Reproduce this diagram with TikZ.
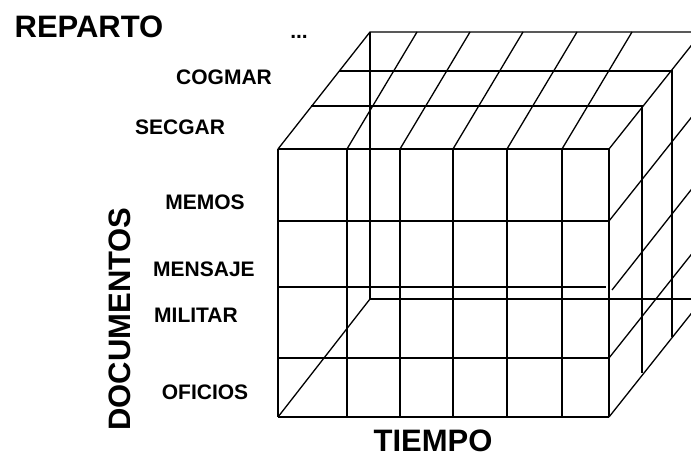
\documentclass[tikz,border=0pt]{standalone}
\usepackage{fontspec}
\setmainfont{Liberation Sans}
\usepackage{tikz}

\begin{document}
\begin{tikzpicture}    [x=1pt,y=-1pt,line width=1.3pt,
      eje node/.style={font=\fontsize{31}{31}\selectfont\bfseries,inner sep=0pt},
      tipo node/.style={font=\fontsize{21}{21}\selectfont\bfseries,inner sep=0pt}]
    %   [scale=.8,auto=left]
      \clip (0,0) rectangle (691,457);

      \node[eje node] (reparto) at (89,27) 		{REPARTO};
      \node[eje node] (tiempo) at (433,441) 		{TIEMPO};
      \node[eje node,rotate=90] (documentos) at (120,319) 	{DOCUMENTOS};

      \node[tipo node] (puntos) at (299,37) 		{...};
      \node[tipo node] (cogmar) at (224,77) 		{COGMAR};
      \node[tipo node] (secgar) at (180,127) 		{SECGAR};
      \node[tipo node] (memos) at (205,202) 		{MEMOS};
      \node[tipo node] (mensaje) at (204,269) 		{MENSAJE};
      \node[tipo node] (militar) at (196,315) 		{MILITAR};
      \node[tipo node] (oficios) at (205,392) 		{OFICIOS};

      % cara frontal
      \foreach \x in {278,347,400,453,507,562,609}
	\draw (\x,149) -- (\x,417);
      \foreach \y in {149,221,358,417}
	\draw (278,\y) -- (609,\y);
      \draw (278,287) -- (606,287);

      % cara superior
      \draw (278,149) -- (370,32) -- (702,32);
      \draw (609,149) -- (702,32);
      \draw (311,106) -- (642,106) -- (642,373);
      \draw (339,71) -- (672,71) -- (672,337);
      \foreach \x in {347,400,453,507,562}
	\draw (\x,149) -- (\x+70,32);

      % cara lateral y fondo
      \foreach \y in {221,358,417}
	\draw (609,\y) -- ++(93,-117);
      \draw (612,290) -- ++(90,-114);
      \draw (370,32) -- (370,299) -- (702,299);
      \draw (278,417) -- (370,299);

    \end{tikzpicture}
\end{document}
